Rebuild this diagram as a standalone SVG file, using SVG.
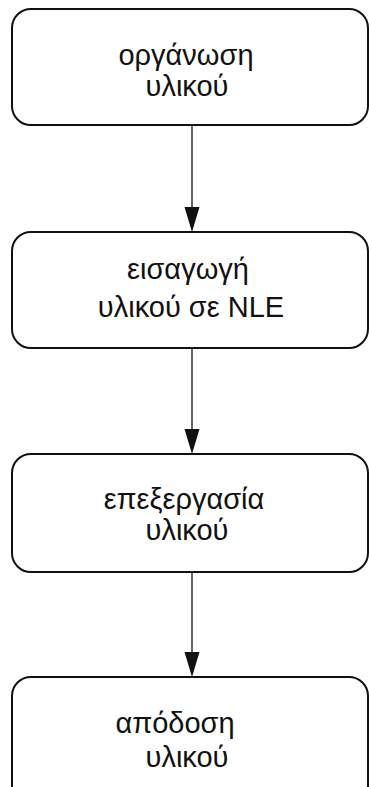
<svg xmlns="http://www.w3.org/2000/svg" width="369" height="787" viewBox="0 0 369 787">
<defs>
<style>
.box{fill:#fff;stroke:#111;stroke-width:2}
.t{font-family:"Liberation Sans",Arial,sans-serif;font-size:29px;fill:#111;text-anchor:middle}
.c{stroke:#111;stroke-width:1.3;fill:none}
</style>
</defs>
<rect width="369" height="787" fill="#fff"/>
<g id="connectors">
<line class="c" x1="192" y1="125" x2="192" y2="207"/>
<path d="M184.5,207 L199.5,207 L192,232 Z" fill="#111"/>
<line class="c" x1="192" y1="348" x2="192" y2="429"/>
<path d="M184.5,429 L199.5,429 L192,454 Z" fill="#111"/>
<line class="c" x1="192" y1="572" x2="192" y2="652"/>
<path d="M184.5,652 L199.5,652 L192,677 Z" fill="#111"/>
</g>
<g id="n1">
<rect class="box" x="12" y="9" width="356" height="116" rx="19"/>
<text class="t" x="186" y="65">οργάνωση</text>
<text class="t" x="187" y="96">υλικού</text>
</g>
<g id="n2">
<rect class="box" x="12" y="232" width="356" height="116" rx="19"/>
<text class="t" x="188" y="279">εισαγωγή</text>
<text class="t" x="191" y="317">υλικού σε NLE</text>
</g>
<g id="n3">
<rect class="box" x="12" y="454" width="356" height="118" rx="19"/>
<text class="t" x="184" y="509">επεξεργασία</text>
<text class="t" x="187" y="540">υλικού</text>
</g>
<g id="n4">
<rect class="box" x="12" y="677" width="356" height="130" rx="19"/>
<text class="t" x="175" y="733">απόδοση</text>
<text class="t" x="187" y="767">υλικού</text>
</g>
</svg>
